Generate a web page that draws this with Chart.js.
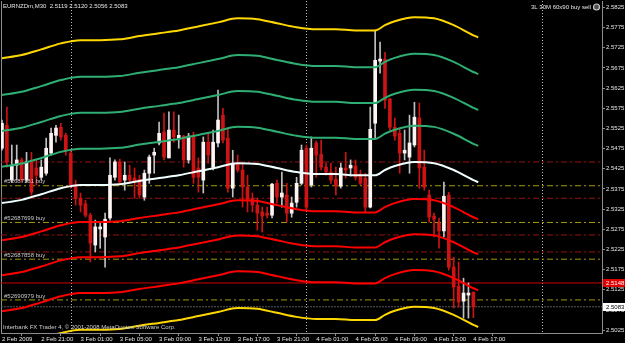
<!DOCTYPE html>
<html>
<head>
<meta charset="utf-8">
<title>EURNZDm,M30</title>
<script src="https://cdn.jsdelivr.net/npm/chart.js@4.4.1/dist/chart.umd.min.js"></script>
<style>
  html, body { margin: 0; padding: 0; background: #000; }
  canvas { display: block; }
</style>
</head>
<body>
<canvas id="chart" width="625" height="343"></canvas>
<script>
const symbol = 'EURNZDm,M30';

// M30 candles, bar 0 = 2 Feb 17:00 ... bar 96 = 4 Feb 17:00
const openP = [
  2.5476, 2.5533, 2.5397, 2.5434, 2.5447, 2.5397, 2.5442, 2.5427, 2.5404, 2.5414,
  2.5464, 2.5508, 2.5528, 2.5508, 2.5464, 2.5385, 2.5352, 2.5338, 2.5310, 2.5236,
  2.5276, 2.5256, 2.5303, 2.5404, 2.5442, 2.5397, 2.5409, 2.5402, 2.5399, 2.5355,
  2.5414, 2.5459, 2.5489, 2.5516, 2.5452, 2.5521, 2.5501, 2.5506, 2.5447, 2.5508,
  2.5427, 2.5397, 2.5491, 2.5429, 2.5489, 2.5558, 2.5501, 2.5377, 2.5439, 2.5422,
  2.5380, 2.5352, 2.5335, 2.5318, 2.5315, 2.5310, 2.5389, 2.5355, 2.5360, 2.5315,
  2.5342, 2.5389, 2.5476, 2.5385, 2.5489, 2.5461, 2.5429, 2.5417, 2.5399, 2.5382,
  2.5427, 2.5427, 2.5432, 2.5412, 2.5402, 2.5330, 2.5538, 2.5692, 2.5697, 2.5598,
  2.5528, 2.5513, 2.5464, 2.5454, 2.5484, 2.5551, 2.5429, 2.5360, 2.5308, 2.5290,
  2.5271, 2.5360, 2.5181, 2.5134, 2.5097, 2.5112, 2.5119
];
const highP = [
  2.5546, 2.5578, 2.5484, 2.5484, 2.5452, 2.5466, 2.5466, 2.5447, 2.5447, 2.5501,
  2.5526, 2.5533, 2.5538, 2.5513, 2.5471, 2.5397, 2.5365, 2.5347, 2.5315, 2.5298,
  2.5293, 2.5315, 2.5452, 2.5447, 2.5449, 2.5442, 2.5434, 2.5427, 2.5409, 2.5422,
  2.5459, 2.5476, 2.5541, 2.5563, 2.5566, 2.5566, 2.5558, 2.5508, 2.5513, 2.5516,
  2.5452, 2.5504, 2.5516, 2.5521, 2.5620, 2.5575, 2.5526, 2.5471, 2.5459, 2.5439,
  2.5409, 2.5365, 2.5352, 2.5330, 2.5330, 2.5389, 2.5397, 2.5417, 2.5389, 2.5355,
  2.5404, 2.5484, 2.5484, 2.5504, 2.5494, 2.5496, 2.5439, 2.5439, 2.5429, 2.5439,
  2.5466, 2.5447, 2.5447, 2.5422, 2.5414, 2.5578, 2.5769, 2.5739, 2.5714, 2.5600,
  2.5551, 2.5526, 2.5521, 2.5558, 2.5590, 2.5588, 2.5471, 2.5372, 2.5315, 2.5303,
  2.5392, 2.5367, 2.5206, 2.5194, 2.5154, 2.5142, 2.5120
];
const lowP = [
  2.5471, 2.5429, 2.5392, 2.5397, 2.5392, 2.5392, 2.5360, 2.5385, 2.5397, 2.5409,
  2.5459, 2.5491, 2.5496, 2.5459, 2.5377, 2.5335, 2.5318, 2.5305, 2.5194, 2.5219,
  2.5228, 2.5181, 2.5298, 2.5397, 2.5389, 2.5372, 2.5389, 2.5352, 2.5352, 2.5347,
  2.5389, 2.5414, 2.5484, 2.5447, 2.5452, 2.5491, 2.5476, 2.5429, 2.5439, 2.5389,
  2.5367, 2.5365, 2.5439, 2.5422, 2.5479, 2.5489, 2.5367, 2.5355, 2.5417, 2.5330,
  2.5318, 2.5318, 2.5273, 2.5268, 2.5303, 2.5303, 2.5340, 2.5330, 2.5293, 2.5305,
  2.5330, 2.5385, 2.5323, 2.5380, 2.5404, 2.5422, 2.5409, 2.5389, 2.5360, 2.5377,
  2.5402, 2.5407, 2.5397, 2.5385, 2.5318, 2.5328, 2.5501, 2.5662, 2.5575, 2.5521,
  2.5496, 2.5414, 2.5447, 2.5414, 2.5479, 2.5377, 2.5372, 2.5293, 2.5256, 2.5228,
  2.5256, 2.5174, 2.5080, 2.5082, 2.5055, 2.5055, 2.5056
];
const closeP = [
  2.5538, 2.5442, 2.5434, 2.5447, 2.5397, 2.5442, 2.5367, 2.5409, 2.5429, 2.5476,
  2.5513, 2.5526, 2.5504, 2.5471, 2.5385, 2.5352, 2.5335, 2.5310, 2.5241, 2.5281,
  2.5281, 2.5300, 2.5409, 2.5442, 2.5392, 2.5409, 2.5397, 2.5394, 2.5360, 2.5414,
  2.5454, 2.5466, 2.5513, 2.5454, 2.5521, 2.5504, 2.5508, 2.5447, 2.5506, 2.5404,
  2.5404, 2.5491, 2.5459, 2.5491, 2.5546, 2.5496, 2.5377, 2.5439, 2.5422, 2.5380,
  2.5347, 2.5335, 2.5315, 2.5308, 2.5310, 2.5387, 2.5355, 2.5365, 2.5315, 2.5340,
  2.5389, 2.5471, 2.5330, 2.5476, 2.5459, 2.5429, 2.5417, 2.5397, 2.5382, 2.5427,
  2.5422, 2.5434, 2.5404, 2.5389, 2.5330, 2.5523, 2.5694, 2.5697, 2.5595, 2.5528,
  2.5506, 2.5464, 2.5471, 2.5489, 2.5553, 2.5427, 2.5380, 2.5305, 2.5300, 2.5271,
  2.5357, 2.5181, 2.5132, 2.5095, 2.5117, 2.5117, 2.5083
];

// time axis
const timeBars = [0, 8, 16, 24, 32, 40, 48, 56, 64, 72, 80, 88, 96];
const timeLabels = ['2 Feb 2009', '2 Feb 21:00', '3 Feb 01:00', '3 Feb 05:00', '3 Feb 09:00',
  '3 Feb 13:00', '3 Feb 17:00', '3 Feb 21:00', '4 Feb 01:00', '4 Feb 05:00',
  '4 Feb 09:00', '4 Feb 13:00', '4 Feb 17:00'];
const dayBreaks = [14, 62, 110];
const priceTicks = [2.5025, 2.5075, 2.5125, 2.5175, 2.5225, 2.5275, 2.5325, 2.5375, 2.5425,
  2.5475, 2.5525, 2.5575, 2.5625, 2.5675, 2.5725, 2.5775, 2.5825];

// envelope lines, sampled at these bars
const bandIdx = [0, 4, 8, 12, 16, 20, 24, 28, 32, 36, 40, 44, 48, 52, 56, 60, 64, 68, 72, 76, 78, 80, 84, 88, 92, 96, 97];
const yellowUp = [2.5699, 2.5707, 2.5721, 2.5736, 2.5744, 2.5744, 2.5746, 2.5754, 2.5761, 2.5768, 2.5778, 2.5788, 2.5798, 2.5796, 2.5786, 2.5776, 2.5771, 2.5771, 2.5768, 2.5768, 2.5781, 2.5791, 2.5801, 2.5798, 2.5781, 2.5756, 2.5751];
const greenUp3 = [2.5608, 2.5616, 2.5630, 2.5645, 2.5653, 2.5653, 2.5655, 2.5663, 2.5670, 2.5677, 2.5687, 2.5697, 2.5707, 2.5705, 2.5695, 2.5685, 2.5680, 2.5680, 2.5677, 2.5677, 2.5690, 2.5700, 2.5710, 2.5707, 2.5690, 2.5665, 2.5660];
const greenUp2 = [2.5519, 2.5527, 2.5541, 2.5556, 2.5564, 2.5564, 2.5566, 2.5574, 2.5581, 2.5588, 2.5598, 2.5608, 2.5618, 2.5616, 2.5606, 2.5596, 2.5591, 2.5591, 2.5588, 2.5588, 2.5601, 2.5611, 2.5621, 2.5618, 2.5601, 2.5576, 2.5571];
const greenUp1 = [2.5430, 2.5438, 2.5452, 2.5467, 2.5475, 2.5475, 2.5477, 2.5485, 2.5492, 2.5499, 2.5509, 2.5519, 2.5529, 2.5527, 2.5517, 2.5507, 2.5502, 2.5502, 2.5499, 2.5499, 2.5512, 2.5522, 2.5532, 2.5529, 2.5512, 2.5487, 2.5482];
const midLine = [2.5340, 2.5348, 2.5362, 2.5377, 2.5385, 2.5385, 2.5387, 2.5395, 2.5402, 2.5409, 2.5419, 2.5429, 2.5439, 2.5437, 2.5427, 2.5417, 2.5412, 2.5412, 2.5409, 2.5409, 2.5422, 2.5432, 2.5442, 2.5439, 2.5422, 2.5397, 2.5392];
const redDn1 = [2.5248, 2.5256, 2.5270, 2.5285, 2.5293, 2.5293, 2.5295, 2.5303, 2.5310, 2.5317, 2.5327, 2.5337, 2.5347, 2.5345, 2.5335, 2.5325, 2.5320, 2.5320, 2.5317, 2.5317, 2.5330, 2.5340, 2.5350, 2.5347, 2.5330, 2.5305, 2.5300];
const redDn2 = [2.5161, 2.5169, 2.5183, 2.5198, 2.5206, 2.5206, 2.5208, 2.5216, 2.5223, 2.5230, 2.5240, 2.5250, 2.5260, 2.5258, 2.5248, 2.5238, 2.5233, 2.5233, 2.5230, 2.5230, 2.5243, 2.5253, 2.5263, 2.5260, 2.5243, 2.5218, 2.5213];
const redDn3 = [2.5072, 2.5080, 2.5094, 2.5109, 2.5117, 2.5117, 2.5119, 2.5127, 2.5134, 2.5141, 2.5151, 2.5161, 2.5171, 2.5169, 2.5159, 2.5149, 2.5144, 2.5144, 2.5141, 2.5141, 2.5154, 2.5164, 2.5174, 2.5171, 2.5154, 2.5129, 2.5124];
const yellowDn = [2.4981, 2.4989, 2.5003, 2.5018, 2.5026, 2.5026, 2.5028, 2.5036, 2.5043, 2.5050, 2.5060, 2.5070, 2.5080, 2.5078, 2.5068, 2.5058, 2.5053, 2.5053, 2.5050, 2.5050, 2.5063, 2.5073, 2.5083, 2.5080, 2.5063, 2.5038, 2.5033];

// open orders and their stop lines
const orderNames = ['#52687181 buy', '#52687699 buy', '#52687858 buy', '#52690979 buy'];
const orderLevels = [2.5383, 2.5292, 2.5201, 2.5100];
const stopLevels = [2.5442, 2.5352, 2.5261, 2.5219];
const bidPrice = 2.5083;
const markLevel = 2.5142;
const markText = '2.5148';

const xMin = -0.2, xMax = 122.2;
const yMin = 2.5018, yMax = 2.5841;

const font = { family: 'Liberation Sans', size: 6 };
const axisGrey = '#8c8c8c';
const txt = '#e6e6e6';

const isUp = i => closeP[i] >= openP[i];

const band = (vals, color) => ({
  type: 'line',
  data: vals.map((v, k) => ({ x: bandIdx[k], y: v })),
  borderColor: color,
  borderWidth: 2,
  pointRadius: 0,
  cubicInterpolationMode: 'monotone',
  order: 0
});

const level = (v, color, dash) => ({
  type: 'line',
  data: [{ x: xMin, y: v }, { x: xMax, y: v }],
  borderColor: color,
  borderWidth: 1,
  borderDash: dash,
  pointRadius: 0,
  order: 5
});

const decor = {
  id: 'decor',
  beforeDatasetsDraw(chart) {
    const { ctx, chartArea: a, scales: { x } } = chart;
    ctx.save();
    ctx.lineWidth = 1;
    ctx.strokeStyle = '#bdbdbd';
    ctx.setLineDash([1, 2]);
    dayBreaks.forEach(b => {
      const px = Math.round(x.getPixelForValue(b)) + 0.5;
      ctx.beginPath();
      ctx.moveTo(px, a.top);
      ctx.lineTo(px, a.bottom);
      ctx.stroke();
    });
    ctx.setLineDash([]);
    ctx.strokeStyle = axisGrey;
    ctx.beginPath();
    ctx.moveTo(a.left + 0.5, a.top);
    ctx.lineTo(a.left + 0.5, a.bottom);
    ctx.stroke();
    ctx.restore();
  },
  afterDraw(chart) {
    const { ctx, chartArea: a, scales: { y } } = chart;
    const last = closeP.length - 1;
    ctx.save();
    ctx.font = '6px "Liberation Sans"';
    ctx.textBaseline = 'middle';
    ctx.textAlign = 'left';

    ctx.fillStyle = txt;
    ctx.fillText(symbol + '  ' + [openP[last], highP[last], lowP[last], closeP[last]].map(v => v.toFixed(4)).join(' '), 3, a.top + 5);
    ctx.fillStyle = '#cfcfcf';
    ctx.fillText('Interbank FX Trader 4, \u00a9 2001-2008 MetaQuotes Software Corp.', 3, a.bottom - 6);

    ctx.fillStyle = '#c8c8c8';
    orderNames.forEach((name, k) => {
      ctx.fillText(name, 4, y.getPixelForValue(orderLevels[k]) - 4);
    });

    ctx.textAlign = 'right';
    ctx.fillStyle = txt;
    ctx.fillText('3L 30M 60x90 buy sell', 591, a.top + 6);
    ctx.beginPath();
    ctx.arc(596.5, a.top + 6, 3, 0, Math.PI * 2);
    ctx.fillStyle = '#505050';
    ctx.fill();
    ctx.lineWidth = 1.2;
    ctx.strokeStyle = '#c8c8c8';
    ctx.stroke();

    // price boxes on the axis
    ctx.textAlign = 'left';
    const box = (val, text, bg, fg) => {
      const py = Math.round(y.getPixelForValue(val));
      ctx.fillStyle = bg;
      ctx.fillRect(a.right + 1, py - 4, 22, 8);
      ctx.fillStyle = fg;
      ctx.fillText(text, a.right + 4, py);
    };
    box(markLevel, markText, '#e00000', '#ffffff');
    box(bidPrice, bidPrice.toFixed(4), '#ffffff', '#000000');
    ctx.restore();
  }
};

new Chart(document.getElementById('chart'), {
  type: 'bar',
  data: {
    datasets: [
      band(yellowUp, '#ffd700'),
      band(greenUp3, '#2fae74'),
      band(greenUp2, '#2fae74'),
      band(greenUp1, '#2fae74'),
      band(midLine, '#f0ffff'),
      band(redDn1, '#ff0000'),
      band(redDn2, '#ff0000'),
      band(redDn3, '#ff0000'),
      band(yellowDn, '#ffd700'),
      {
        type: 'bar',
        data: openP.map((o, i) => ({ x: i, y: [o, closeP[i]] })),
        backgroundColor: c => isUp(c.dataIndex) ? '#fff4f4' : '#cc1414',
        barThickness: 3,
        minBarLength: 1,
        grouped: false,
        borderWidth: 0,
        order: 1
      },
      {
        type: 'bar',
        data: lowP.map((l, i) => ({ x: i, y: [l, highP[i]] })),
        backgroundColor: c => isUp(c.dataIndex) ? '#c0c0c0' : '#cc1414',
        barThickness: 1,
        grouped: false,
        borderWidth: 0,
        order: 2
      },
      ...orderLevels.map(v => level(v, '#a89c00', [6, 3, 2, 3])),
      ...stopLevels.map(v => level(v, '#9e1010', [6, 3, 2, 3])),
      level(markLevel, '#c80000', []),
      level(bidPrice, '#5a5a5a', [2, 1])
    ]
  },
  options: {
    responsive: false,
    animation: false,
    devicePixelRatio: 1,
    layout: { padding: { left: 1, top: 1, right: 0, bottom: 0 } },
    plugins: { legend: { display: false }, tooltip: { enabled: false } },
    scales: {
      x: {
        type: 'linear',
        min: xMin,
        max: xMax,
        offset: false,
        afterBuildTicks: s => { s.ticks = timeBars.map(v => ({ value: v })); },
        afterFit: s => { s.height = 10; s.paddingLeft = 0; s.paddingRight = 0; },
        ticks: {
          callback: (v, i) => timeLabels[i],
          autoSkip: false,
          maxRotation: 0,
          minRotation: 0,
          align: 'start',
          padding: 0,
          color: txt,
          font
        },
        grid: { drawOnChartArea: false, drawTicks: true, tickLength: 3, color: axisGrey },
        border: { color: axisGrey }
      },
      y: {
        type: 'linear',
        position: 'right',
        min: yMin,
        max: yMax,
        afterBuildTicks: s => { s.ticks = priceTicks.map(v => ({ value: v })); },
        afterFit: s => { s.width = 23; s.paddingTop = 0; s.paddingBottom = 0; },
        ticks: {
          callback: v => v.toFixed(4),
          padding: 1,
          color: txt,
          font
        },
        grid: { drawOnChartArea: false, drawTicks: true, tickLength: 3, color: axisGrey },
        border: { color: axisGrey }
      }
    }
  },
  plugins: [decor]
});
</script>
</body>
</html>
